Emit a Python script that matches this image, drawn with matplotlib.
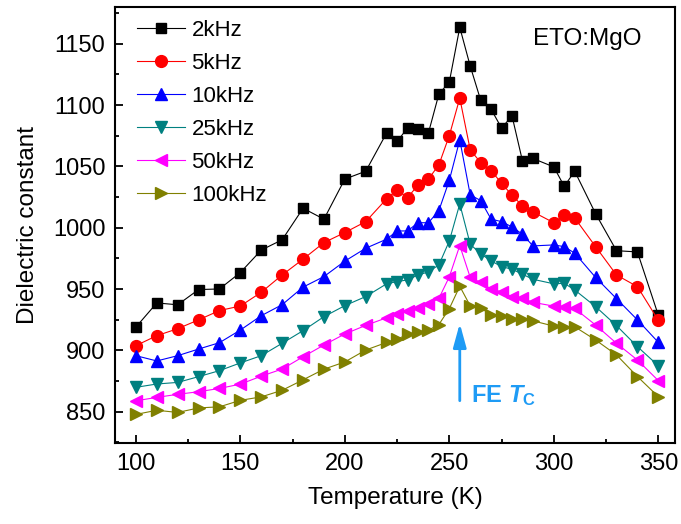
import matplotlib
matplotlib.use("Agg")
import matplotlib.pyplot as plt
from matplotlib import font_manager
from matplotlib.ticker import MultipleLocator

# temperatures (K)
temps = [100, 110, 120, 130, 140, 150, 160, 170, 180, 190, 200, 210,
         220, 225, 230, 235, 240, 245, 250, 255, 260, 265, 270, 275, 280, 285, 290,
         300, 305, 310, 320, 330, 340, 350]

eps_2k = [919, 938.7, 937.2, 949.6, 950.1, 963.5, 981.8, 990.2, 1015.9, 1007, 1039.7, 1046.1,
          1077.3, 1070.4, 1081.3, 1080.3, 1077.3, 1109, 1118.9, 1163.4, 1131.8, 1104, 1096.6,
          1081.3, 1091.2, 1054.5, 1056.5, 1049.6, 1033.8, 1046.1, 1011.5, 981.3, 980.3, 928.8]
eps_5k = [903.9, 912, 917.7, 924.9, 932.5, 936.2, 947.4, 961.5, 974.4, 987.9, 996.1, 1005,
          1023.6, 1030.8, 1024.6, 1034.7, 1039.7, 1051.3, 1075.2, 1105.7, 1063.5, 1053.2, 1046.6,
          1036.3, 1026.5, 1017.9, 1013, 1004.1, 1010, 1008, 984.6, 961.5, 952, 924.6]
eps_10k = [895.7, 891.4, 895.7, 901.1, 906.3, 916.6, 928.3, 937.3, 951.6, 960.2, 972.8, 983.3,
           990.7, 997.4, 997.4, 1004.1, 1004.1, 1014, 1038.7, 1071.7, 1026.8, 1022.2, 1007,
           1005, 1000.7, 994.7, 985.2, 986, 984.6, 979.3, 959.5, 942.2, 924.9, 906.6]
eps_25k = [869.9, 872.6, 873.9, 878.6, 883.5, 889.8, 895.7, 905.8, 916.1, 927.5, 936.5, 943.9,
           954.3, 956.1, 957.5, 961.5, 964, 969.7, 989.2, 1019.5, 986.6, 978.7, 973,
           968.3, 966.2, 962.1, 958, 954.3, 954.7, 949.3, 935.7, 920.2, 903.1, 887.5]
eps_50k = [858.9, 861.7, 864.2, 866.3, 869, 872.5, 879, 884.8, 894.8, 904.4, 913.4, 920.4,
           926.6, 929.4, 932, 934.7, 937.8, 942.4, 960, 985.5, 959.5, 955.4, 950,
           947.8, 943.8, 942.5, 939.2, 936.1, 935.6, 934.2, 920.7, 905.8, 892.2, 875.4]
eps_100k = [847.8, 851.2, 849.4, 853.1, 854, 859.3, 862.1, 867.5, 876, 884.7, 890.6, 900.3,
            906.5, 909.1, 913, 915.1, 916.5, 921.1, 934.1, 952.3, 936.3, 934.9, 928.6,
            928.1, 925.2, 925.2, 924.1, 919.8, 919.3, 919.3, 908.5, 896.3, 878.7, 862.3]

labels = ["2kHz", "5kHz", "10kHz", "25kHz", "50kHz", "100kHz"]
colors = ["black", "red", "blue", "#008080", "#ff00ff", "#808000"]
markers = ["s", "o", "^", "v", "<", ">"]
series = [eps_2k, eps_5k, eps_10k, eps_25k, eps_50k, eps_100k]

# the original uses a narrow Arial; fall back to smaller regular type if missing
installed = {f.name for f in font_manager.fontManager.ttflist}
has_narrow = "Liberation Sans Narrow" in installed
narrow = "Liberation Sans Narrow" if has_narrow else "Liberation Sans"
big = 20 if has_narrow else 17.5

plt.rcParams["font.family"] = ["Liberation Sans", "DejaVu Sans"]
plt.rcParams["mathtext.fontset"] = "custom"
plt.rcParams["mathtext.rm"] = narrow + ":bold"
plt.rcParams["mathtext.it"] = narrow + ":italic:bold"

fig = plt.figure(figsize=(6.81, 5.24), dpi=100)
ax = fig.add_axes([115 / 681, 1 - 443 / 524, 560 / 681, 436 / 524])

for y, lab, c, m in zip(series, labels, colors, markers):
    ax.plot(temps, y, color=c, lw=0.8, marker=m, ms=8.5 if m != "s" else 7.5,
            mec=c, mfc=c, label=lab)

ax.set_xlim(90, 358)
ax.set_ylim(824.5, 1180)
ax.xaxis.set_major_locator(MultipleLocator(50))
ax.xaxis.set_minor_locator(MultipleLocator(25))
ax.yaxis.set_major_locator(MultipleLocator(50))
ax.yaxis.set_minor_locator(MultipleLocator(25))
ax.tick_params(which="both", direction="in", width=1.3, labelsize=17, pad=7)
ax.tick_params(which="major", length=6)
ax.tick_params(which="minor", length=3)
for s in ax.spines.values():
    s.set_linewidth(1.5)

ax.set_xlabel("Temperature (K)", family=narrow, fontsize=big, labelpad=9)
ax.set_ylabel("Dielectric constant", family=narrow, fontsize=big, labelpad=10)

ax.text(0.941, 0.927, "ETO:MgO", family=narrow, fontsize=big,
        transform=ax.transAxes, ha="right", va="center")

# FE Tc marker
ax.annotate("", xy=(255, 922), xytext=(255, 859),
            arrowprops=dict(arrowstyle="-|>,head_length=0.8,head_width=0.22",
                            mutation_scale=18, color="#1e9bf5", lw=2,
                            shrinkA=0, shrinkB=0))
ax.text(260.3, 858, r"$\mathrm{FE}\ T_\mathrm{C}$", fontsize=19 if has_narrow else 17,
        color="#1e9bf5", ha="left", va="baseline")

ax.legend(loc="upper left", bbox_to_anchor=(0.039, 0.971), frameon=False,
          fontsize=16, handlelength=2.16, handletextpad=0.3, labelspacing=0.54,
          borderpad=0, borderaxespad=0)

fig.savefig("out.png", dpi=100)
